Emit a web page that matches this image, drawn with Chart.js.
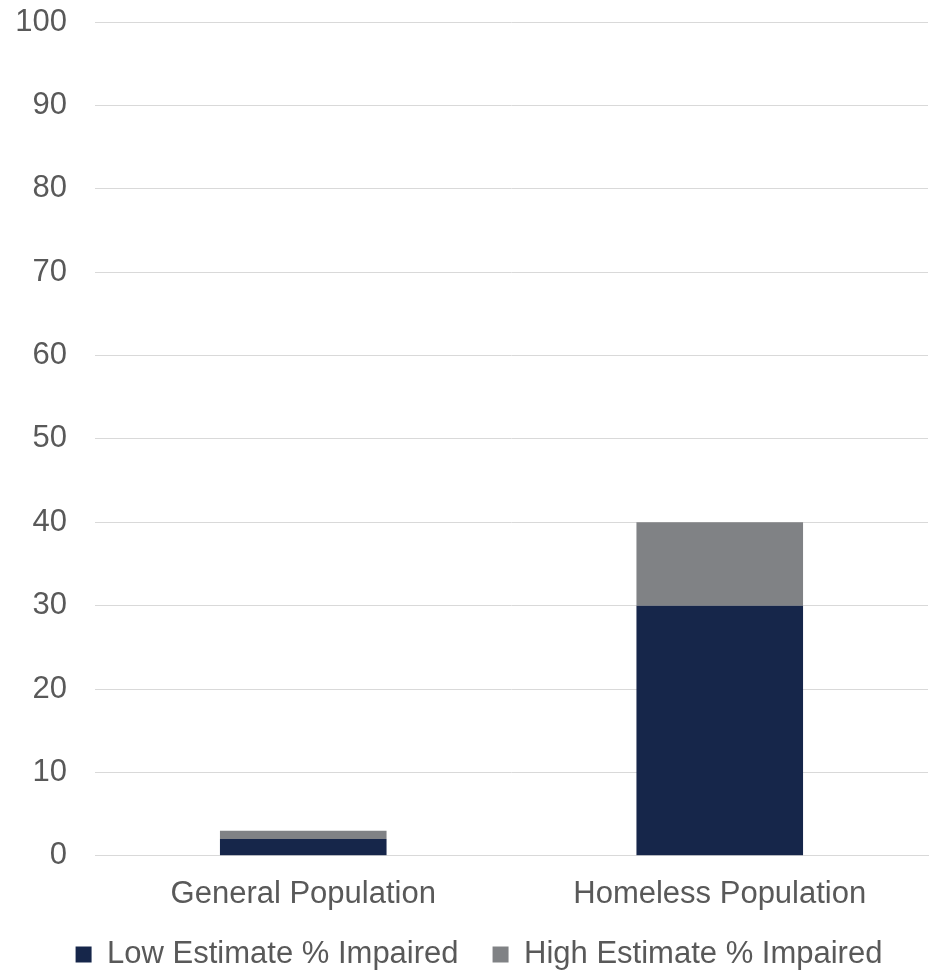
<!DOCTYPE html>
<html>
<head>
<meta charset="utf-8">
<script src="https://cdn.jsdelivr.net/npm/chart.js@4/dist/chart.umd.min.js"></script>
<style>
  body { margin: 0; background: #fff; }
  #wrap { width: 932px; height: 970px; }
</style>
</head>
<body>
<div id="wrap"><canvas id="chart" width="932" height="970"></canvas></div>
<script>
// datos
const categorias = ['General Population', 'Homeless Population'];
const estimacionBaja = [2, 30];
const estimacionAltaExtra = [1, 10]; // parte gris encima de la baja
const ticksY = [0, 10, 20, 30, 40, 50, 60, 70, 80, 90, 100];

const textoGris = '#595959';
const fuente = "'Liberation Sans', Arial, sans-serif";

// mueve la leyenda un poco (derecha y arriba), como en el original
const moverLeyenda = {
  id: 'moverLeyenda',
  afterLayout(chart) {
    chart.legend.left += 15;
    chart.legend.right += 15;
    chart.legend.top -= 20;
    chart.legend.bottom -= 20;
  },
};

new Chart(document.getElementById('chart').getContext('2d'), {
  type: 'bar',
  data: {
    labels: categorias,
    datasets: [
      {
        label: 'Low Estimate % Impaired',
        data: estimacionBaja,
        backgroundColor: '#16264a',
        barPercentage: 0.8,
        categoryPercentage: 0.5,
      },
      {
        label: 'High Estimate % Impaired',
        data: estimacionAltaExtra,
        backgroundColor: '#808285',
        barPercentage: 0.8,
        categoryPercentage: 0.5,
      },
    ],
  },
  options: {
    responsive: false,
    animation: false,
    layout: { padding: { top: 22, right: 4, left: 0, bottom: -30 } },
    scales: {
      x: {
        stacked: true,
        grid: { display: false },
        border: { color: '#d9d9d9', width: 1 },
        ticks: { color: textoGris, font: { family: fuente, size: 31 }, padding: 12 },
      },
      y: {
        stacked: true,
        min: 0,
        max: 100,
        afterBuildTicks: (axis) => { axis.ticks = ticksY.map((v) => ({ value: v })); },
        afterFit: (axis) => { axis.width = 95; },
        // la marca invisible separa los numeros del area
        grid: { color: '#d9d9d9', drawTicks: true, tickLength: 28, tickColor: 'rgba(0,0,0,0)' },
        border: { display: false },
        ticks: { color: textoGris, font: { family: fuente, size: 31 }, padding: 0 },
      },
    },
    plugins: {
      legend: {
        position: 'bottom',
        labels: {
          color: textoGris,
          font: { family: fuente, size: 31 },
          boxWidth: 16,
          boxHeight: 16,
          padding: 34,
        },
      },
      tooltip: { enabled: false },
    },
  },
  plugins: [moverLeyenda],
});
</script>
</body>
</html>
